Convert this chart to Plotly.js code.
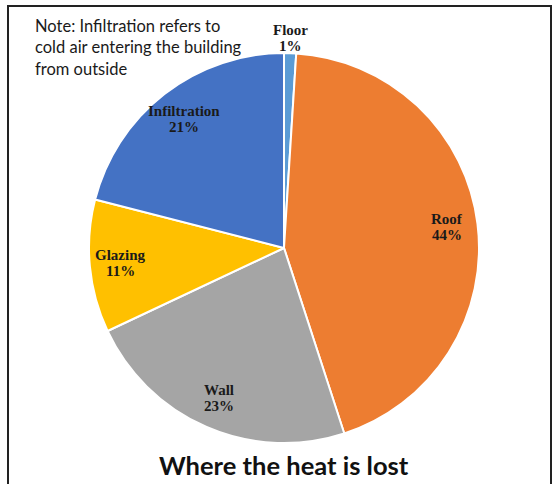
<!DOCTYPE html>
<html>
<head>
<meta charset="utf-8">
<script src="https://cdn.plot.ly/plotly-3.0.1.min.js"></script>
<style>
html,body{margin:0;padding:0;background:#fff;}
#chart{width:553px;height:484px;}
</style>
</head>
<body>
<div id="chart"></div>
<script>
var categories = ["Floor", "Roof", "Wall", "Glazing", "Infiltration"];
var shares = [1, 44, 23, 11, 21];
var sliceColors = ["#5B9BD5", "#ED7D31", "#A5A5A5", "#FFC000", "#4472C4"];
var chartTitle = "Where the heat is lost";
var noteText = "Note: Infiltration refers to<br>cold air entering the building<br>from outside";

var W = 553, H = 484;
var cx = 284, cy = 248, R = 195;

var trace = {
  type: "pie",
  labels: categories,
  values: shares,
  sort: false,
  direction: "clockwise",
  rotation: 0,
  marker: { colors: sliceColors, line: { color: "#ffffff", width: 2 } },
  textinfo: "none",
  hoverinfo: "none",
  domain: { x: [(cx - R) / W, (cx + R) / W], y: [(H - cy - R) / H, (H - cy + R) / H] },
  showlegend: false
};

// slice labels placed at each slice's mid-angle (derived from the data)
var labelFont = { family: "Liberation Serif, Times New Roman, serif", size: 15, color: "#1a1a1a" };
var total = shares.reduce(function (a, b) { return a + b; }, 0);
var annotations = [];
var cum = 0;
for (var i = 0; i < shares.length; i++) {
  var mid = (cum + shares[i] / 2) / total * 2 * Math.PI;
  cum += shares[i];
  var small = shares[i] / total < 0.05;
  var r = small ? R + 15 : R * 0.84;
  var px = cx + r * Math.sin(mid);
  var py = cy - r * Math.cos(mid);
  annotations.push({
    text: "<b>" + categories[i] + "</b>",
    xref: "paper", yref: "paper", x: px / W, y: 1 - (py - 8) / H,
    xanchor: "center", yanchor: "middle", showarrow: false, font: labelFont
  });
  annotations.push({
    text: "<b>" + shares[i] + "%</b>",
    xref: "paper", yref: "paper", x: px / W, y: 1 - (py + 8) / H,
    xanchor: "center", yanchor: "middle", showarrow: false, font: labelFont
  });
}

annotations.push({ text: noteText, xref: "paper", yref: "paper", x: 33 / W, y: 1 - 14 / H,
  xanchor: "left", yanchor: "top", align: "left", showarrow: false,
  font: { family: "Lato, Open Sans, sans-serif", size: 16.5, color: "#1a1a1a" } });
annotations.push({ text: "<b>" + chartTitle + "</b>", xref: "paper", yref: "paper", x: 284 / W, y: 1 - 465 / H,
  xanchor: "center", yanchor: "middle", showarrow: false,
  font: { family: "Lato, Open Sans, sans-serif", size: 25.5, color: "#111111" } });

var layout = {
  width: W, height: H,
  margin: { l: 0, r: 0, t: 0, b: 0 },
  paper_bgcolor: "#ffffff",
  showlegend: false,
  annotations: annotations,
  shapes: [
    { type: "path", xref: "paper", yref: "paper",
      path: "M " + (8 / W) + " -0.05 L " + (8 / W) + " " + (1 - 6 / H) + " L " + (551 / W) + " " + (1 - 6 / H) + " L " + (551 / W) + " -0.05",
      line: { color: "#222222", width: 2 } }
  ]
};

Plotly.newPlot("chart", [trace], layout, { staticPlot: true, displayModeBar: false });
</script>
</body>
</html>
